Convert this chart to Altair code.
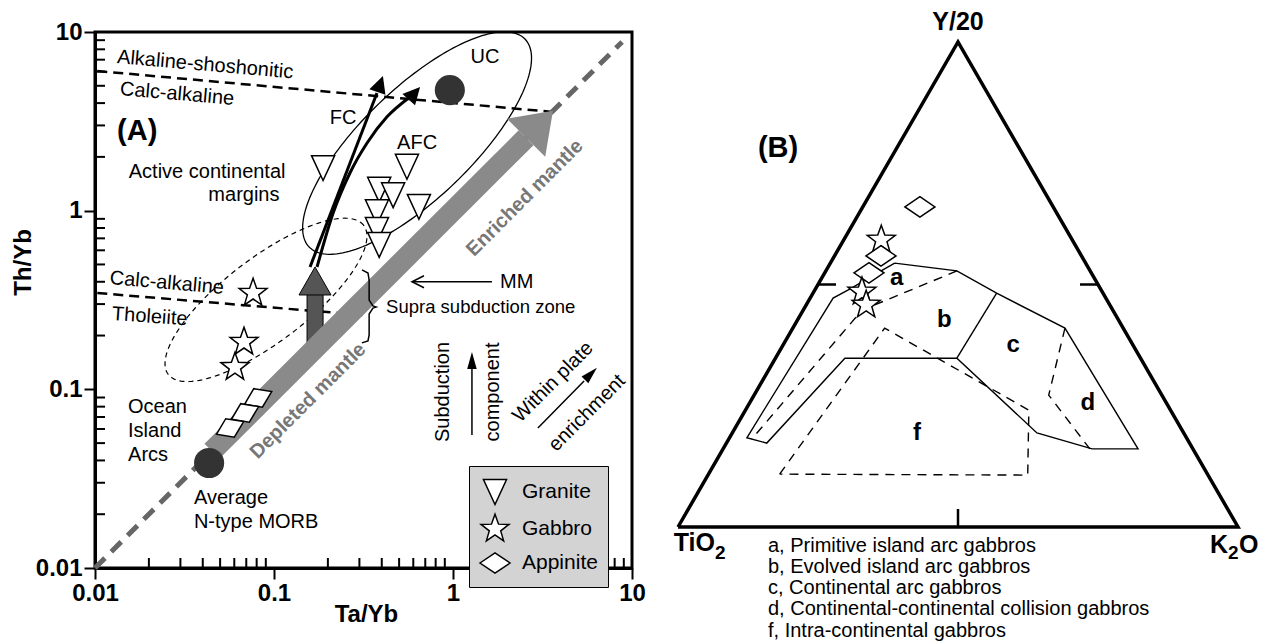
import math
import numpy as np
import pandas as pd
import altair as alt

FONT = "Liberation Sans"

# ======================= Panel A : Th/Yb vs Ta/Yb (log-log) =======================
rock_types = ["Granite", "Gabbro", "Appinite"]
granite_ta = [0.188, 0.553, 0.387, 0.463, 0.645, 0.376, 0.376, 0.387]
granite_th = [1.73, 1.76, 1.31, 1.22, 1.05, 0.98, 0.78, 0.643]
gabbro_ta = [0.0764, 0.068, 0.0605]
gabbro_th = [0.346, 0.184, 0.133]
appinite_ta = [0.0815, 0.0689, 0.0568]
appinite_th = [0.0895, 0.0738, 0.0608]

ref_ta = [0.96, 0.0434]          # UC, average N-type MORB
ref_th = [4.73, 0.0387]

axis_ticks = [0.01, 0.1, 1, 10]
minor_ticks = [m * 10.0 ** e for e in (-2, -1, 0) for m in range(2, 10)]

mantle_array = [0.01, 8.8]                     # Th/Yb = Ta/Yb
band_ta = [0.045, 2.56]                        # mantle array arrow shaft
band_tip = 3.62
alk_ta, alk_th = [0.0103, 3.6], [6.05, 3.57]   # alkaline / calc-alkaline boundary
thol_ta, thol_th = [0.0103, 0.322], [0.346, 0.26]
# ellipses: centre (Ta/Yb, Th/Yb), semi-axes (log decades), tilt (deg)
acm_ell = (0.63, 2.39, 0.838, 0.307, 44)
oia_ell = (0.0902, 0.3167, 0.687, 0.235, 37.4)
subd_shaft = (0.153, 0.188, 0.17, 0.34)
subd_tip = (0.1695, 0.484)
fc_ta, fc_th = [0.159, 0.376], [0.484, 4.56]
fc_tip = (0.406, 5.67, 19)
afc_ta = [0.174, 0.214, 0.266, 0.331, 0.428, 0.575]
afc_th = [0.484, 0.97, 1.63, 2.39, 3.35, 4.33]
afc_tip = (0.655, 4.92, 42)
mm_ta, mm_th = [1.65, 0.59], [0.40, 0.40]
sub_ta, sub_th = [1.276, 1.276], [0.0556, 0.135]
sub_tip = (1.276, 0.162, 0)
wp_ta, wp_th = [2.98, 5.40], [0.0608, 0.1114]
wp_tip = (6.37, 0.132, 45)
brace_ta = [0.310, 0.335, 0.340, 0.340, 0.357, 0.372, 0.357, 0.340, 0.340, 0.335, 0.310]
brace_th = [0.466, 0.448, 0.409, 0.316, 0.293, 0.289, 0.285, 0.264, 0.2015, 0.1866, 0.182]

SAX = alt.Scale(type="log", domain=[0.01, 10], range=[0, 537], nice=False)
SAY = alt.Scale(type="log", domain=[0.01, 10], range=[536, 0], nice=False)

axis_common = dict(values=axis_ticks, format="~g", labelFont=FONT, labelFontSize=24,
                   labelFontWeight="bold", labelColor="black", titleFont=FONT, titleFontSize=24,
                   titleFontWeight="bold", titleColor="black", domainColor="black", domainWidth=3,
                   tickColor="black", tickWidth=2, tickSize=11, grid=False, labelFlush=False,
                   labelOverlap=False)
AXX = alt.Axis(title="Ta/Yb", orient="bottom", labelPadding=2, titleX=271, titleY=46,
               titleBaseline="middle", titleAlign="center", **axis_common)
AXY = alt.Axis(title="Th/Yb", orient="left", labelPadding=2, titleX=-72, titleY=230, titleAngle=270,
               titleBaseline="middle", titleAlign="center", **axis_common)


def XA(f="x"):
    return alt.X(f, type="quantitative", scale=SAX, axis=AXX)


def YA(f="y"):
    return alt.Y(f, type="quantitative", scale=SAY, axis=AXY)


def line_a(xs, ys, **kw):
    df = pd.DataFrame({"x": xs, "y": ys, "o": range(len(xs))})
    return alt.Chart(df).mark_line(**kw).encode(x=XA(), y=YA(), order="o:Q")


def head_a(x, y, angle, shape, size, **kw):
    df = pd.DataFrame({"x": [x], "y": [y]})
    return alt.Chart(df).mark_point(shape=shape, size=size, angle=angle, opacity=1, **kw).encode(x=XA(), y=YA())


def text_a(xs, ys, texts, **kw):
    df = pd.DataFrame({"x": xs, "y": ys, "t": texts})
    kw.setdefault("fontSize", 20)
    kw.setdefault("color", "black")
    return alt.Chart(df).mark_text(font=FONT, **kw).encode(x=XA(), y=YA(), text="t:N")


def ellipse_a(params, **kw):
    cx, cy, a, b, ang = params
    t = np.linspace(0, 2 * np.pi, 181)
    th = np.radians(ang)
    lx = np.log10(cx) + a * np.cos(t) * np.cos(th) - b * np.sin(t) * np.sin(th)
    ly = np.log10(cy) + a * np.cos(t) * np.sin(th) + b * np.sin(t) * np.cos(th)
    return line_a(10 ** lx, 10 ** ly, **kw)


TRI_DOWN = "M-0.77,-0.83 L0.77,-0.83 L0,0.83 Z"
STAR = ("M0,-0.98 L0.235,-0.324 L0.932,-0.303 L0.380,0.124 L0.576,0.793 L0,0.40 "
        "L-0.576,0.793 L-0.380,0.124 L-0.932,-0.303 L-0.235,-0.324 Z")
DIAMOND = "M-1,0 L0,-0.68 L1,0 L0,0.68 Z"
HEAD = "M0,0 L0.5,1 L-0.5,1 Z"
THIN_HEAD = "M0,0 L0.28,1 L-0.28,1 Z"
OPEN_HEAD = "M-0.5,1 L0,0 L0.5,1"
BIG_HEAD = "M0,0 L1,1.41 L-1,1.41 Z"
SUB_HEAD = "M0,0 L1,1.75 L-1,1.75 Z"

SHAPES = alt.Scale(domain=rock_types, range=[TRI_DOWN, STAR, DIAMOND])

frame_df = pd.DataFrame({"x0": [axis_ticks[0]], "x1": [axis_ticks[-1]],
                         "y0": [axis_ticks[0]], "y1": [axis_ticks[-1]]})
frame = alt.Chart(frame_df).mark_rect(fillOpacity=0, stroke="black", strokeWidth=3).encode(
    x=XA("x0"), x2="x1", y=YA("y0"), y2="y1")

mt = pd.DataFrame({"v": minor_ticks})
minor_x = alt.Chart(mt).mark_rule(color="black", strokeWidth=2).encode(
    x=XA("v"), y=alt.value(536), y2=alt.value(526))
minor_y = alt.Chart(mt).mark_rule(color="black", strokeWidth=2).encode(
    y=YA("v"), x=alt.value(0), x2=alt.value(10))

dash_black = dict(color="black", strokeWidth=2.5, strokeDash=[10, 6])
alk = line_a(alk_ta, alk_th, **dash_black)
thol = line_a(thol_ta, thol_th, **dash_black)
ell1 = ellipse_a(acm_ell, color="black", strokeWidth=1.3)
ell2 = ellipse_a(oia_ell, color="black", strokeWidth=1.2, strokeDash=[5, 4])
diag = line_a(mantle_array, mantle_array, color="#666666", strokeWidth=5, strokeDash=[14, 9])

sub_df = pd.DataFrame({"x": [subd_shaft[0]], "x2": [subd_shaft[1]],
                       "y": [subd_shaft[2]], "y2": [subd_shaft[3]]})
sub_shaft = alt.Chart(sub_df).mark_rect(color="#555555", stroke="black", strokeWidth=1).encode(
    x=XA("x"), x2="x2", y=YA("y"), y2="y2")
sub_head = head_a(subd_tip[0], subd_tip[1], 0, SUB_HEAD, 1024, filled=True, fill="#555555",
                  stroke="black", strokeWidth=1)
band = line_a(band_ta, band_ta, color="#8a8a8a", strokeWidth=21, strokeCap="butt")
band_head = head_a(band_tip, band_tip, 45, BIG_HEAD, 2916, filled=True, color="#8a8a8a")

fc = line_a(fc_ta, fc_th, color="black", strokeWidth=3)
fc_h = head_a(fc_tip[0], fc_tip[1], fc_tip[2], HEAD, 1156, filled=True, color="black")
afc = line_a(afc_ta, afc_th, color="black", strokeWidth=3, interpolate="monotone")
afc_h = head_a(afc_tip[0], afc_tip[1], afc_tip[2], HEAD, 1156, filled=True, color="black")

mm = line_a(mm_ta, mm_th, color="black", strokeWidth=1.5)
mm_h = head_a(mm_ta[1], mm_th[1], 270, OPEN_HEAD, 576, filled=False, color="black", strokeWidth=1.5)
sub_l = line_a(sub_ta, sub_th, color="black", strokeWidth=1.5)
sub_h = head_a(sub_tip[0], sub_tip[1], sub_tip[2], THIN_HEAD, 1156, filled=True, color="black")
wp_l = line_a(wp_ta, wp_th, color="black", strokeWidth=1.5)
wp_h = head_a(wp_tip[0], wp_tip[1], wp_tip[2], THIN_HEAD, 1156, filled=True, color="black")
brace = line_a(brace_ta, brace_th, color="black", strokeWidth=1.5)

refs = alt.Chart(pd.DataFrame({"x": ref_ta, "y": ref_th})).mark_circle(
    size=907, color="#333333", opacity=1).encode(x=XA(), y=YA())

legend = alt.Legend(title=None, orient="none", legendX=374, legendY=434, fillColor="#d3d3d3",
                    strokeColor="black", padding=10, labelFont=FONT, labelFontSize=21,
                    labelColor="black", labelOffset=11, rowPadding=3, symbolSize=900,
                    symbolStrokeWidth=1.5)
pt_style = dict(filled=True, fill="white", stroke="black", strokeWidth=1.5, size=900, opacity=1)

rocks_a = pd.DataFrame({
    "x": granite_ta + gabbro_ta,
    "y": granite_th + gabbro_th,
    "rock": ["Granite"] * len(granite_ta) + ["Gabbro"] * len(gabbro_ta),
})
points_a = alt.Chart(rocks_a).mark_point(**pt_style).encode(
    x=XA(), y=YA(), shape=alt.Shape("rock:N", scale=SHAPES, legend=legend))
app_a = pd.DataFrame({"x": appinite_ta, "y": appinite_th, "rock": ["Appinite"] * len(appinite_ta)})
points_app = alt.Chart(app_a).mark_point(angle=335, **pt_style).encode(
    x=XA(), y=YA(), shape=alt.Shape("rock:N", scale=SHAPES, legend=legend))

t_center = text_a([0.0423, 0.0679, 0.243, 0.630, 1.51], [1.647, 1.224, 3.31, 2.39, 7.24],
                  ["Active continental", "margins", "FC", "AFC", "UC"])
t_left = text_a([0.0153, 0.0153, 0.0153, 0.0357, 0.0357, 1.83],
                [0.0797, 0.0585, 0.0429, 0.0247, 0.0181, 0.40],
                ["Ocean", "Island", "Arcs", "Average", "N-type MORB", "MM"], align="left")
t_supra = text_a([0.423], [0.289], ["Supra subduction zone"], align="left", fontSize=18.5)
t_tilt = text_a([0.0133, 0.0138, 0.0121], [7.24, 4.80, 0.420],
                ["Alkaline-shoshonitic", "Calc-alkaline", "Calc-alkaline"], align="left", angle=5)
t_thol = text_a([0.01245], [0.264], ["Tholeiite"], align="left", angle=4)
t_vert = text_a([0.879, 1.67], [0.0967, 0.0967], ["Subduction", "component"], angle=270)
t_diag = text_a([3.62, 5.61], [0.110, 0.0738], ["Within plate", "enrichment"], angle=315)
t_mantle = text_a([2.52, 0.155], [1.178, 0.0861], ["Enriched mantle", "Depleted mantle"],
                  angle=315, fontWeight="bold", color="#777777")
t_A = text_a([0.0172], [2.79], ["(A)"], fontWeight="bold", fontSize=29)

panel_a = alt.layer(frame, minor_x, minor_y, alk, thol, ell1, ell2, diag, sub_shaft, sub_head,
                    band, band_head, fc, fc_h, afc, afc_h, mm, mm_h, sub_l, sub_h, wp_l, wp_h,
                    brace, refs, points_a, points_app, t_center, t_left, t_supra, t_tilt, t_thol,
                    t_vert, t_diag, t_mantle, t_A)

# ======================= Panel B : TiO2 - Y/20 - K2O ternary =======================
TRI_H = math.sqrt(3) / 2
# compositions in % (Y/20, K2O); TiO2 = 100 - both
b_rock = ["Appinite", "Gabbro", "Appinite", "Appinite", "Gabbro", "Gabbro"]
b_y20 = [66.0, 59.2, 55.9, 52.4, 48.5, 45.8]
b_k2o = [10.2, 6.7, 8.3, 7.9, 8.6, 10.7]
b_tio2 = [100 - y - k for y, k in zip(b_y20, b_k2o)]

vert_y20 = [0, 100, 0, 0]
vert_k2o = [0, 0, 100, 0]
mid_y20 = [50, 50, 0]
mid_k2o = [0, 50, 50]

outer_y20 = [54.4, 51.8, 49.1, 47.2, 18.4, 17.3, 34.8, 34.8, 19.4, 16.1, 16.1, 41.0, 48.2, 52.8, 54.4]
outer_k2o = [11.5, 8.8, 6.2, 4.1, 3.1, 7.2, 12.4, 32.4, 54.4, 65.9, 74.1, 48.6, 32.8, 23.4, 11.5]
bc_y20, bc_k2o = [48.2, 34.8], [32.8, 32.4]
ab_y20, ab_k2o = [52.8, 44.7, 18.1], [23.4, 10.5, 4.1]
f_y20, f_k2o = [10.9, 41.0, 24.1, 10.7, 10.9], [12.7, 16.4, 50.6, 57.1, 12.7]
d_y20, d_k2o = [41.0, 27.2, 16.1], [48.6, 52.6, 65.5]

field_names = ["a", "b", "c", "d", "f"]
field_y20 = [51.3, 42.7, 37.5, 25.6, 19.4]
field_k2o = [13.4, 26.2, 41.1, 60.4, 33.0]

captions = ["a, Primitive island arc gabbros", "b, Evolved island arc gabbros",
            "c, Continental arc gabbros", "d, Continental-continental collision gabbros",
            "f, Intra-continental gabbros"]

SBX = alt.Scale(domain=[0, 1], range=[583, 1143], nice=False, zero=False)
SBY = alt.Scale(domain=[0, TRI_H], range=[495, 10], nice=False, zero=False)


def XB(f="cx"):
    return alt.X(f, type="quantitative", scale=SBX, axis=None)


def YB(f="cy"):
    return alt.Y(f, type="quantitative", scale=SBY, axis=None)


def tern_df(y20, k2o, **cols):
    b = np.asarray(y20, float) / 100
    c = np.asarray(k2o, float) / 100
    df = pd.DataFrame({"cx": c + b / 2, "cy": b * TRI_H, "o": range(len(b))})
    for k, v in cols.items():
        df[k] = v
    return df


def line_b(y20, k2o, **kw):
    return alt.Chart(tern_df(y20, k2o)).mark_line(**kw).encode(x=XB(), y=YB(), order="o:Q")


def vtext(df_row, text, size, **kw):
    d = df_row.copy()
    d["t"] = text
    return alt.Chart(d).mark_text(font=FONT, fontSize=size, fontWeight="bold", color="black",
                                  **kw).encode(x=XB(), y=YB(), text="t:N")


outline = line_b(vert_y20, vert_k2o, color="black", strokeWidth=3.5, strokeJoin="miter")
mids = tern_df(mid_y20, mid_k2o)
tick_l = alt.Chart(mids.iloc[[0]]).mark_rule(color="black", strokeWidth=2.5, x2Offset=18).encode(
    x=XB(), x2="cx", y=YB())
tick_r = alt.Chart(mids.iloc[[1]]).mark_rule(color="black", strokeWidth=2.5, x2Offset=-18).encode(
    x=XB(), x2="cx", y=YB())
tick_b = alt.Chart(mids.iloc[[2]]).mark_rule(color="black", strokeWidth=2.5, y2Offset=-18).encode(
    x=XB(), y=YB(), y2="cy")

solid_b = dict(color="black", strokeWidth=1.4)
dash_b = dict(color="black", strokeWidth=1.4, strokeDash=[9, 7])
outer = line_b(outer_y20, outer_k2o, **solid_b)
bc = line_b(bc_y20, bc_k2o, **solid_b)
ab = line_b(ab_y20, ab_k2o, **dash_b)
ff = line_b(f_y20, f_k2o, **dash_b)
dd = line_b(d_y20, d_k2o, **dash_b)

flabels = alt.Chart(tern_df(field_y20, field_k2o, t=field_names)).mark_text(
    font=FONT, fontSize=24, fontWeight="bold", color="black").encode(x=XB(), y=YB(), text="t:N")

verts = tern_df(vert_y20[:3], vert_k2o[:3])
v_ti = vtext(verts.iloc[[0]], "TiO", 25, align="right", dx=37, dy=16)
v_ti2 = vtext(verts.iloc[[0]], "2", 19, align="left", dx=37, dy=26)
v_y20 = vtext(verts.iloc[[1]], "Y/20", 25, dy=-20)
v_k = vtext(verts.iloc[[2]], "K", 25, align="right", dx=-10, dy=18)
v_k2 = vtext(verts.iloc[[2]], "2", 19, align="left", dx=-10, dy=26)
v_o = vtext(verts.iloc[[2]], "O", 25, align="left", dx=1, dy=18)

t_B = alt.Chart(pd.DataFrame({"cx": [0.1786], "cy": [0.677], "t": ["(B)"]})).mark_text(
    font=FONT, fontSize=29, fontWeight="bold", color="black").encode(x=XB(), y=YB(), text="t:N")

points_b = alt.Chart(tern_df(b_y20, b_k2o, rock=b_rock, tio2=b_tio2)).mark_point(**pt_style).encode(
    x=XB(), y=YB(), shape=alt.Shape("rock:N", scale=SHAPES, legend=None))

cap = alt.Chart(pd.DataFrame({"t": ["\n".join(captions)]})).mark_text(
    font=FONT, fontSize=20, align="left", baseline="alphabetic", lineBreak="\n", lineHeight=21.3,
    color="black").encode(x=alt.value(673), y=alt.value(519.5), text="t:N")

panel_b = alt.layer(outline, tick_l, tick_r, tick_b, outer, bc, ab, ff, dd, flabels,
                    points_b, v_ti, v_ti2, v_y20, v_k, v_k2, v_o, t_B, cap)

chart = alt.layer(panel_a, panel_b).resolve_scale(x="independent", y="independent").properties(
    width=1143, height=536,
    autosize=alt.AutoSizeParams(type="none"),
    padding={"left": 87, "top": 24, "right": 24, "bottom": 74},
).configure(font=FONT, view=alt.ViewConfig(stroke=None))

chart.save("out.html", embed_options={"renderer": "svg", "actions": False})
